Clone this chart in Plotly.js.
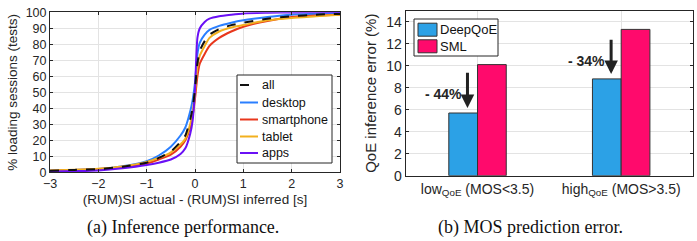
<!DOCTYPE html>
<html>
<head>
<meta charset="utf-8">
<script src="https://cdn.plot.ly/plotly-3.0.1.min.js"></script>
<style>html,body{margin:0;padding:0;background:#fff;}#chart{width:697px;height:241px;}</style>
</head>
<body>
<div id="chart"></div>
<script>
// ---- Left chart: CDF of (RUM)SI actual - (RUM)SI inferred [s]
const errX = [-3,-2.5,-2,-1.5,-1,-0.75,-0.5,-0.3,-0.2,-0.1,-0.05,0,0.05,0.1,0.2,0.3,0.5,0.75,1,1.5,2,2.5,3];
const cdfAll        = [1,1.5,2,3.5,6,9,13,19,23,33,40,52,68,76,82,86,89.5,92,93.5,96,97.5,98.5,99];
const cdfDesktop    = [1,1.5,2,3.8,7,10.5,16,23,28,38,45,56,74,81,86,89,91.5,93.5,95,97,98.5,99,99.5];
const cdfSmartphone = [1,1.4,2,3.3,5.5,8,11,16,20,28,35,46,60,68,74,79,84,88,91,94.5,97,98,98.5];
const cdfTablet     = [1.2,1.6,2.2,3.6,6.5,9,12.5,17.5,21,30,37,50,66,73,79,84,88,90.5,92,95,96.5,97.5,98.5];
const cdfApps       = [0.5,0.8,1.2,2.5,4.5,6,8,11.5,15,24,32,52,84,90,94,96,97.5,98.5,99.3,99.7,99.9,100,100];
const seriesNames = ['all','desktop','smartphone','tablet','apps'];
const xTicksA = [-3,-2,-1,0,1,2,3];
const yTicksA = [0,10,20,30,40,50,60,70,80,90,100];

// ---- Right chart: MOS prediction error
const categories = ['low<sub>QoE</sub> (MOS&lt;3.5)', 'high<sub>QoE</sub> (MOS&gt;3.5)'];
const barNames = ['DeepQoE', 'SML'];
const deepQoE = [5.7, 8.8];
const sml = [10.1, 13.3];
const reductionLabels = ['- 44%', '- 34%'];
const arrowTop = [9.5, 12.5];
const labelY = [7.4, 10.4];
const yTicksB = [0,2,4,6,8,10,12,14];

const axisCol = '#262626';
const gridCol = '#e3e3e3';
const sans = 'Liberation Sans, Arial, sans-serif';
const serif = 'Liberation Serif, Times New Roman, serif';
const W = 697, H = 241;
const px = v => v / W;
const py = v => 1 - v / H;

const lineColors = {all: '#111111', desktop: '#2a7fff', smartphone: '#e8371c', tablet: '#f2b01e', apps: '#6a10f5'};
const lineDash = {all: 'dash', desktop: 'solid', smartphone: 'solid', tablet: 'solid', apps: 'solid'};
const cdfData = {all: cdfAll, desktop: cdfDesktop, smartphone: cdfSmartphone, tablet: cdfTablet, apps: cdfApps};
const barColors = ['#2ca1e6', '#ff0a6c'];

const traces = [];
['desktop', 'smartphone', 'tablet', 'apps', 'all'].forEach(n => {
  traces.push({
    x: errX, y: cdfData[n], name: n, type: 'scatter', mode: 'lines',
    line: {color: lineColors[n], width: 2, dash: lineDash[n], shape: 'spline', smoothing: 0.6},
    xaxis: 'x', yaxis: 'y', showlegend: false
  });
});
traces.push({
  x: [1, 2], y: deepQoE, name: barNames[0], type: 'bar',
  marker: {color: barColors[0], line: {color: '#333333', width: 1}},
  xaxis: 'x2', yaxis: 'y2', showlegend: false
});
traces.push({
  x: [1, 2], y: sml, name: barNames[1], type: 'bar',
  marker: {color: barColors[1], line: {color: '#333333', width: 1}},
  xaxis: 'x2', yaxis: 'y2', showlegend: false
});

const annotations = [];
const shapes = [];
for (let i = 0; i < 2; i++) {
  annotations.push({
    xref: 'x2', yref: 'y2', x: i + 1 - 0.07, y: deepQoE[i] + 0.45,
    axref: 'x2', ayref: 'y2', ax: i + 1 - 0.07, ay: arrowTop[i],
    showarrow: true, arrowhead: 2, arrowsize: 0.9, arrowwidth: 3, arrowcolor: '#222222', text: ''
  });
  annotations.push({
    xref: 'x2', yref: 'y2', x: i + 1 - 0.24, y: labelY[i], xanchor: 'center',
    text: '<b>' + reductionLabels[i] + '</b>', showarrow: false,
    font: {family: sans, size: 14, color: '#262626'}
  });
}
// captions
annotations.push({
  xref: 'paper', yref: 'paper', x: px(183), y: py(227), xanchor: 'center', yanchor: 'middle',
  text: '(a) Inference performance.', showarrow: false,
  font: {family: serif, size: 18, color: '#111'}
});
annotations.push({
  xref: 'paper', yref: 'paper', x: px(530), y: py(227), xanchor: 'center', yanchor: 'middle',
  text: '(b) MOS prediction error.', showarrow: false,
  font: {family: serif, size: 18, color: '#111'}
});

// left legend (drawn box)
shapes.push({type: 'rect', xref: 'paper', yref: 'paper', x0: px(237), x1: px(332), y0: py(163), y1: py(75),
  fillcolor: '#ffffff', line: {color: axisCol, width: 1}, layer: 'above'});
const legY = [85, 102.5, 119.5, 136.5, 153];
seriesNames.forEach((n, i) => {
  shapes.push({type: 'line', xref: 'paper', yref: 'paper', x0: px(240), x1: px(258), y0: py(legY[i]), y1: py(legY[i]),
    line: {color: lineColors[n], width: 2, dash: n === 'all' ? 'dash' : 'solid'}, layer: 'above'});
  annotations.push({xref: 'paper', yref: 'paper', x: px(260), y: py(legY[i]), xanchor: 'left', yanchor: 'middle',
    text: n, showarrow: false, font: {family: sans, size: 12.5, color: '#111'}});
});
// right legend (drawn box)
shapes.push({type: 'rect', xref: 'paper', yref: 'paper', x0: px(414), x1: px(498), y0: py(56), y1: py(19),
  fillcolor: '#ffffff', line: {color: axisCol, width: 1}, layer: 'above'});
const leg2Y = [29.7, 46.3];
barNames.forEach((n, i) => {
  shapes.push({type: 'rect', xref: 'paper', yref: 'paper', x0: px(418), x1: px(437), y0: py(leg2Y[i] + 6.5), y1: py(leg2Y[i] - 6.5),
    fillcolor: barColors[i], line: {color: '#333333', width: 1}, layer: 'above'});
  annotations.push({xref: 'paper', yref: 'paper', x: px(438), y: py(leg2Y[i]), xanchor: 'left', yanchor: 'middle',
    text: n, showarrow: false, font: {family: sans, size: 13, color: '#111'}});
});

const layout = {
  width: W, height: H,
  margin: {l: 0, r: 0, t: 0, b: 0},
  paper_bgcolor: '#fff', plot_bgcolor: '#fff',
  font: {family: sans, color: axisCol},
  barmode: 'group', bargap: 0.6, bargroupgap: 0,
  showlegend: false,
  xaxis: {
    domain: [px(50), px(340)], anchor: 'y', range: [-3, 3],
    tickvals: xTicksA, ticks: 'inside', ticklen: 3, tickcolor: axisCol,
    showline: true, linecolor: axisCol, linewidth: 1, mirror: 'ticks',
    showgrid: true, gridcolor: gridCol, zeroline: false,
    tickfont: {size: 12.5, color: axisCol},
    title: {text: '(RUM)SI actual - (RUM)SI inferred [s]', font: {size: 13.5, color: axisCol}, standoff: 4}
  },
  yaxis: {
    domain: [py(172.3), py(12.3)], anchor: 'x', range: [0, 100],
    tickvals: yTicksA, ticks: 'inside', ticklen: 3, tickcolor: axisCol,
    showline: true, linecolor: axisCol, linewidth: 1, mirror: 'ticks',
    showgrid: true, gridcolor: gridCol, zeroline: false,
    tickfont: {size: 12.5, color: axisCol},
    title: {text: '% loading sessions (tests)', font: {size: 13.5, color: axisCol}, standoff: 4}
  },
  xaxis2: {
    domain: [px(405.7), px(693)], anchor: 'y2', range: [0.5, 2.5],
    tickvals: [1, 2], ticktext: categories, ticks: '',
    showline: true, linecolor: axisCol, linewidth: 1, mirror: true,
    showgrid: true, gridcolor: gridCol, zeroline: false,
    tickfont: {size: 14, color: axisCol}
  },
  yaxis2: {
    domain: [py(175.7), py(10.7)], anchor: 'x2', range: [0, 15],
    tickvals: yTicksB, ticks: 'inside', ticklen: 3, tickcolor: axisCol,
    showline: true, linecolor: axisCol, linewidth: 1, mirror: 'ticks',
    showgrid: true, gridcolor: gridCol, zeroline: false,
    tickfont: {size: 14, color: axisCol},
    title: {text: 'QoE inference error (%)', font: {size: 15, color: axisCol}, standoff: 6}
  },
  shapes: shapes,
  annotations: annotations
};

Plotly.newPlot('chart', traces, layout, {displayModeBar: false, staticPlot: true});
</script>
</body>
</html>
